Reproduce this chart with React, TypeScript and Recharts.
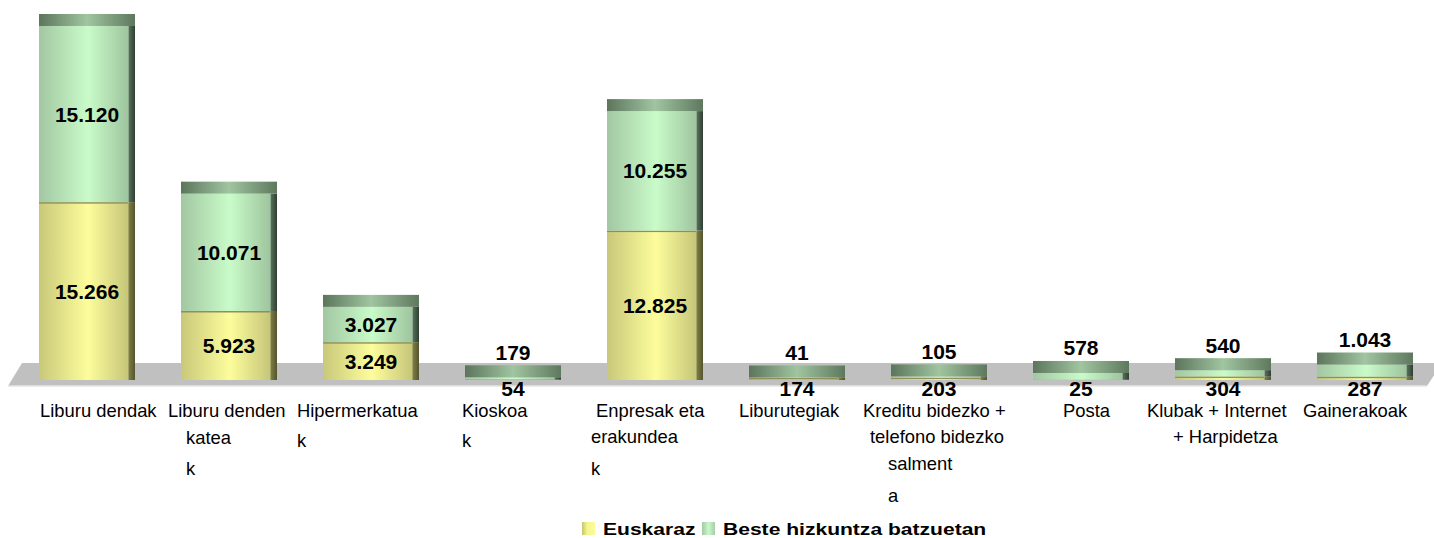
import React from "react"
import { BarChart, Bar, XAxis, YAxis, LabelList, ReferenceArea } from "recharts"

const categories = [
  "Liburu dendak",
  "Liburu denden kateak",
  "Hipermerkatuak",
  "Kioskoak",
  "Enpresak eta erakundeak",
  "Liburutegiak",
  "Kreditu bidezko + telefono bidezko salmenta",
  "Posta",
  "Klubak + Internet + Harpidetza",
  "Gainerakoak",
]

// the category labels as they wrap in the picture
const categoryLines = [
  ["Liburu dendak"],
  ["Liburu denden", "katea", "k"],
  ["Hipermerkatua", "k"],
  ["Kioskoa", "k"],
  ["Enpresak eta", "erakundea", "k"],
  ["Liburutegiak"],
  ["Kreditu bidezko +", "telefono bidezko", "salment", "a"],
  ["Posta"],
  ["Klubak + Internet", "+ Harpidetza"],
  ["Gainerakoak"],
]

const euskaraz = [15266, 5923, 3249, 54, 12825, 174, 203, 25, 304, 287]
const beste = [15120, 10071, 3027, 179, 10255, 41, 105, 578, 540, 1043]

const seriesNames = ["Euskaraz", "Beste hizkuntza batzuetan"]

const data = categories.map((name, i) => ({
  name,
  euskaraz: euskaraz[i],
  beste: beste[i],
}))

const FONT = "'Liberation Sans', Arial, sans-serif"

// [dx from category centre, dy from axis line] for each label line
const tickLayout: [number, number][][] = [
  [[-47, 37]],
  [[-61, 37], [-43, 64], [-43, 95]],
  [[-74, 37], [-74, 67]],
  [[-51, 37], [-51, 67]],
  [[-59, 37], [-64, 63], [-64, 95]],
  [[-58, 37]],
  [[-76, 37], [-69, 63], [-51, 90], [-51, 122]],
  [[-18, 37]],
  [[-76, 37], [-50, 63]],
  [[-62, 37]],
]

const fmt = (v: number) => String(v).replace(/\B(?=(\d{3})+(?!\d))/g, ".")

const CategoryTick = (props: any) => {
  const { x, y, index } = props
  const lines = categoryLines[index] || []
  return (
    <g>
      {lines.map((t, j) => (
        <text
          key={j}
          x={x + tickLayout[index][j][0]}
          y={y + tickLayout[index][j][1]}
          fontSize={18.4}
          fontFamily={FONT}
          fill="#000"
          textAnchor="start"
        >
          {t}
        </text>
      ))}
    </g>
  )
}

const EDGE = 6
const CAP = 12

const YellowBar = (props: any) => {
  const { x, y, width, height } = props
  if (height == null || width == null) return null
  return (
    <g>
      <rect x={x} y={y} width={width - EDGE - 1} height={height} fill="url(#yellowBody)" />
      <rect x={x + width - EDGE - 1} y={y} width={1.5} height={height} fill="#a4a468" />
      <rect x={x + width - EDGE} y={y} width={EDGE} height={height} fill="url(#yellowEdge)" />
      <rect x={x} y={y} width={width - EDGE - 1} height={Math.min(1.5, height)} fill="#8f8f58" />
    </g>
  )
}

const GreenBar = (props: any) => {
  const { x, y, width, height } = props
  if (height == null || width == null) return null
  return (
    <g>
      <rect x={x} y={y} width={width - EDGE - 1} height={height} fill="url(#greenBody)" />
      <rect x={x + width - EDGE - 1} y={y} width={1.5} height={height} fill="#8aa98e" />
      <rect x={x + width - EDGE} y={y} width={EDGE} height={height} fill="url(#greenEdge)" />
      <rect x={x} y={y - CAP} width={width} height={CAP} fill="url(#greenCap)" />
    </g>
  )
}

const Floor = (props: any) => {
  const { x, y, width, height } = props
  const pts = [
    [x + 6, y],
    [x + width + 6, y],
    [x + width - 9, y + height],
    [x - 8, y + height],
  ]
  return (
    <g>
      <polygon points={pts.map((p) => p.join(",")).join(" ")} fill="#c0c0c0" />
      <line x1={x - 8} y1={y + height} x2={x + width - 9} y2={y + height} stroke="#e4e4e4" strokeWidth={1.5} />
    </g>
  )
}

const valueText = (cx: number, cy: number, v: number) => (
  <text
    x={cx}
    y={cy}
    textAnchor="middle"
    dominantBaseline="central"
    fontSize={21}
    fontWeight="bold"
    fontFamily={FONT}
    fill="#000"
  >
    {fmt(v)}
  </text>
)

const YellowLabel = (props: any) => {
  const { x, y, width, height, value } = props
  const cx = x + width / 2
  if (height > 25) return valueText(cx, y + height / 2, value)
  return valueText(cx, y + height + 8, value)
}

const GreenLabel = (props: any) => {
  const { x, y, width, height, value } = props
  const cx = x + width / 2
  if (height > 25) return valueText(cx, y + height / 2, value)
  return valueText(cx, y - CAP - 13, value)
}

export default function App() {
  return (
    <div
      style={{
        position: "absolute",
        left: 0,
        top: 0,
        width: 1434,
        height: 538,
        overflow: "hidden",
        background: "#fff",
      }}
    >
      <BarChart
        width={1436}
        height={538}
        data={data}
        margin={{ top: 13, right: 0, left: 16, bottom: 0 }}
        barSize={96}
      >
        <defs>
          <linearGradient id="yellowBody" x1="0" y1="0" x2="1" y2="0">
            <stop offset="0" stopColor="#c8c87a" />
            <stop offset="0.55" stopColor="#fdfd9c" />
            <stop offset="1" stopColor="#c6c67a" />
          </linearGradient>
          <linearGradient id="yellowEdge" x1="0" y1="0" x2="1" y2="0">
            <stop offset="0" stopColor="#7c7c44" />
            <stop offset="1" stopColor="#54542e" />
          </linearGradient>
          <linearGradient id="greenBody" x1="0" y1="0" x2="1" y2="0">
            <stop offset="0" stopColor="#a2c7a2" />
            <stop offset="0.55" stopColor="#c9fbc9" />
            <stop offset="1" stopColor="#9fc59f" />
          </linearGradient>
          <linearGradient id="greenEdge" x1="0" y1="0" x2="1" y2="0">
            <stop offset="0" stopColor="#566f59" />
            <stop offset="1" stopColor="#2f3f33" />
          </linearGradient>
          <linearGradient id="greenCap" x1="0" y1="0" x2="1" y2="0">
            <stop offset="0" stopColor="#5c755c" />
            <stop offset="0.5" stopColor="#a0c5a0" />
            <stop offset="1" stopColor="#5e785e" />
          </linearGradient>
        </defs>
        <ReferenceArea y1={-515} y2={1460} ifOverflow="visible" shape={<Floor />} />
        <XAxis
          dataKey="name"
          interval={0}
          axisLine={false}
          tickLine={false}
          tickSize={0}
          tickMargin={0}
          height={158}
          tick={<CategoryTick />}
        />
        <YAxis hide domain={[0, 31500]} />
        <Bar
          dataKey="euskaraz"
          name={seriesNames[0]}
          stackId="a"
          shape={<YellowBar />}
          isAnimationActive={false}
        >
          <LabelList dataKey="euskaraz" content={<YellowLabel />} />
        </Bar>
        <Bar
          dataKey="beste"
          name={seriesNames[1]}
          stackId="a"
          shape={<GreenBar />}
          isAnimationActive={false}
        >
          <LabelList dataKey="beste" content={<GreenLabel />} />
        </Bar>
      </BarChart>
      <svg
        width={1434}
        height={538}
        style={{ position: "absolute", left: 0, top: 0, pointerEvents: "none" }}
      >
        <defs>
          <linearGradient id="legY" x1="0" y1="0" x2="1" y2="0">
            <stop offset="0" stopColor="#c4c46e" />
            <stop offset="0.4" stopColor="#f6f68e" />
            <stop offset="1" stopColor="#fbfb9a" />
          </linearGradient>
          <linearGradient id="legG" x1="0" y1="0" x2="1" y2="0">
            <stop offset="0" stopColor="#a4c8a4" />
            <stop offset="0.5" stopColor="#c9f8c9" />
            <stop offset="1" stopColor="#a8cca8" />
          </linearGradient>
        </defs>
        <rect x={582} y={522} width={13} height={13} fill="url(#legY)" />
        <text
          transform="translate(603,535) scale(1.24,1)"
          fontSize={17}
          fontWeight="bold"
          fontFamily={FONT}
          fill="#000"
        >
          {seriesNames[0]}
        </text>
        <rect x={702} y={522} width={13} height={13} fill="url(#legG)" />
        <text
          transform="translate(723,535) scale(1.24,1)"
          fontSize={17}
          fontWeight="bold"
          fontFamily={FONT}
          fill="#000"
        >
          {seriesNames[1]}
        </text>
      </svg>
    </div>
  )
}
